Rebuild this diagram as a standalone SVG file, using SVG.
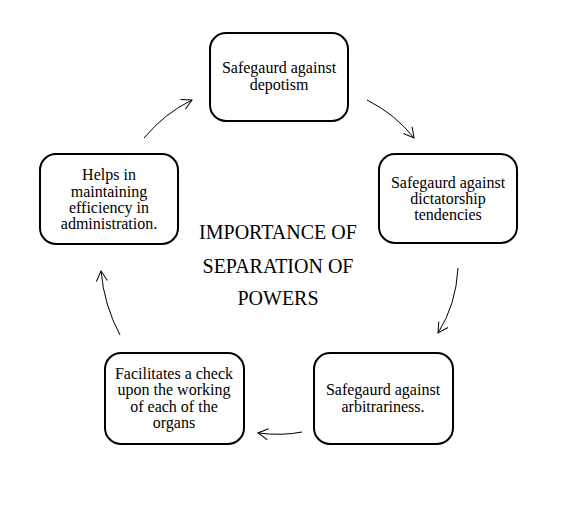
<svg xmlns="http://www.w3.org/2000/svg" width="574" height="512" viewBox="0 0 574 512">
<defs>
<marker id="ah" markerWidth="14" markerHeight="14" refX="11" refY="6" orient="auto" markerUnits="userSpaceOnUse">
<path d="M1,0.5 L11,6 L1,11.5" fill="none" stroke="#000" stroke-width="1"/>
</marker>
<style>
.box{fill:#fff;stroke:#000;stroke-width:2}
.t{font-family:"Liberation Serif","Times New Roman",serif;font-size:16px;text-anchor:middle;fill:#000}
.title{font-family:"Liberation Serif","Times New Roman",serif;font-size:20px;text-anchor:middle;fill:#000}
.c{fill:none;stroke:#000;stroke-width:1;marker-end:url(#ah)}
</style>
</defs>
<rect width="574" height="512" fill="#fff"/>
<g id="connectors">
<path class="c" d="M144,138 Q165,113 192,100"/>
<path class="c" d="M367,100 Q395,114 414,138"/>
<path class="c" d="M458,268 Q456,305 438,333"/>
<path class="c" d="M302,432 Q282,436 258,433"/>
<path class="c" d="M120,335 Q104,305 101,271"/>
</g>
<g id="node-top">
<rect class="box" x="210" y="33" width="138" height="88" rx="16"/>
<text class="t" x="279" y="73">Safegaurd against</text>
<text class="t" x="279" y="90">depotism</text>
</g>
<g id="node-right">
<rect class="box" x="379" y="154" width="138" height="89" rx="16"/>
<text class="t" x="448" y="188">Safegaurd against</text>
<text class="t" x="448" y="204">dictatorship</text>
<text class="t" x="448" y="220">tendencies</text>
</g>
<g id="node-bottom-right">
<rect class="box" x="314" y="353" width="139" height="91" rx="16"/>
<text class="t" x="383" y="395">Safegaurd against</text>
<text class="t" x="383" y="412">arbitrariness.</text>
</g>
<g id="node-bottom-left">
<rect class="box" x="105" y="353" width="139" height="91" rx="16"/>
<text class="t" x="174" y="379">Facilitates a check</text>
<text class="t" x="174" y="395">upon the working</text>
<text class="t" x="174" y="412">of each of the</text>
<text class="t" x="174" y="428">organs</text>
</g>
<g id="node-left">
<rect class="box" x="40" y="154" width="138" height="90" rx="16"/>
<text class="t" x="109" y="180">Helps in</text>
<text class="t" x="109" y="197">maintaining</text>
<text class="t" x="109" y="213">efficiency in</text>
<text class="t" x="109" y="229">administration.</text>
</g>
<g id="title">
<text class="title" x="278" y="239">IMPORTANCE OF</text>
<text class="title" x="278" y="273">SEPARATION OF</text>
<text class="title" x="278" y="305">POWERS</text>
</g>
</svg>
